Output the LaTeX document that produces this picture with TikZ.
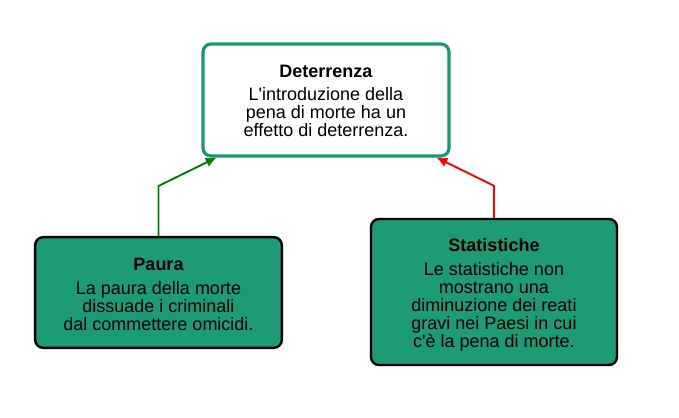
\documentclass[tikz,border=0pt]{standalone}
\usepackage{fontspec}
\setmainfont{Liberation Sans}
\usetikzlibrary{calc,arrows.meta}
\definecolor{teal1}{RGB}{29,155,118}
\definecolor{tealb}{RGB}{26,152,116}
\definecolor{arrgreen}{RGB}{0,128,0}
\begin{document}
\begin{tikzpicture}[x=0.75pt,y=-0.75pt,
  topbox/.style={draw=tealb,line width=2.4pt,fill=white,rounded corners=6pt,inner sep=0pt},
  subbox/.style={draw=black,line width=1.8pt,fill=teal1,rounded corners=6pt,inner sep=0pt},
  ttl/.style={font=\fontsize{13.5}{13.5}\selectfont\bfseries,inner sep=0pt},
  body/.style={font=\fontsize{13.5}{13.5}\selectfont,align=center,inner sep=0pt},
  conn/.style={line width=1.4pt,-{Latex[length=8pt,width=7.5pt]}}]
\useasboundingbox (0,0) rectangle (679,418);
\node[topbox,minimum width=184.5pt,minimum height=84pt] (det) at (326,100) {};
\node[subbox,minimum width=185pt,minimum height=83pt] (pau) at (158.5,292.5) {};
\node[subbox,minimum width=184.5pt,minimum height=109.5pt] (sta) at (494,292) {};
\node[ttl] (detT) at (326,71) {Deterrenza};
\node[body] (detB) at (326,112.5) {L\textquotesingle introduzione della\\pena di morte ha un\\effetto di deterrenza.};
\node[ttl] (pauT) at (158.5,264) {Paura};
\node[body] (pauB) at (158.5,306.5) {La paura della morte\\dissuade i criminali\\dal commettere omicidi.};
\node[ttl] (staT) at (494,245) {Statistiche};
\node[body] (staB) at (494,306.5) {Le statistiche non\\mostrano una\\diminuzione dei reati\\gravi nei Paesi in cui\\c\textquotesingle è la pena di morte.};
\coordinate (dl) at ($(det.south west)+(15,0)$);
\coordinate (dr) at ($(det.south east)+(-14,0)$);
\draw[conn,draw=arrgreen] (pau.north) -- ++(0,-50) -- (dl);
\draw[conn,draw=red] (sta.north) -- ++(0,-32) -- (dr);
\end{tikzpicture}
\end{document}
